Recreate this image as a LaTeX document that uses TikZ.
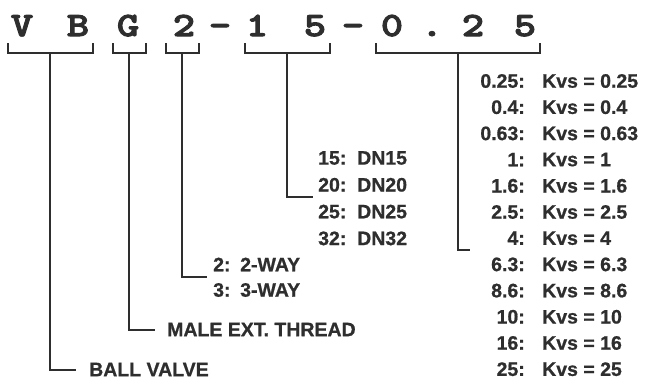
\documentclass[tikz,border=0pt]{standalone}
\usepackage{fontspec}
\setmainfont{Liberation Sans}[BoldFeatures={FakeBold=0.8}]
\newfontfamily\codefont{lmmonolt10-bold}[Extension=.otf, FakeStretch=1.25, FakeBold=3]
\definecolor{ink}{HTML}{2E2E2E}
\begin{document}
\begin{tikzpicture}[x=1pt,y=-1pt,
  inkline/.style={draw=ink, line width=2pt},
  code/.style={font=\codefont\fontsize{34}{34}\selectfont, text=ink, anchor=base, inner sep=0pt},
  lbl/.style={font=\bfseries\fontsize{19.5}{22}\selectfont, text=ink, inner sep=0pt},
]
\useasboundingbox (0,0) rectangle (653,381);
% code characters
\foreach \ch/\xx [count=\n] in {V/22,B/78,G/128,2/184,-/220,1/257,5/315,-/353,0/392,./432,2/473,5/525}
  \node[code] (c\n) at (\xx,36) {\ch};
% bracket coordinates
\coordinate (bVBl) at (8,43);   \coordinate (bVBr) at (93,43);   \coordinate (sVB) at (50,53);
\coordinate (bGl) at (113,43);  \coordinate (bGr) at (146,43);   \coordinate (sG) at (129,53);
\coordinate (b2l) at (166,43);  \coordinate (b2r) at (199,43);   \coordinate (s2) at (182,53);
\coordinate (bDl) at (245,43);  \coordinate (bDr) at (330,43);   \coordinate (sD) at (287,53);
\coordinate (bKl) at (376,43);  \coordinate (bKr) at (540,43);   \coordinate (sK) at (458,53);
\foreach \b in {VB,G,2,D,K}
  \draw[inkline] (b\b l) -- ++(0,10) -| (b\b r);
% labels
\node[lbl, anchor=west] (ball) at (89,369.5) {BALL VALVE};
\node[lbl, anchor=west] (male) at (167,329.5) {MALE EXT. THREAD};
\node[lbl, anchor=west] (w2l) at (213,264.5) {2:};
\node[lbl, anchor=west] (w2v) at (240,264.5) {2-WAY};
\node[lbl, anchor=west] (w3l) at (213,290) {3:};
\node[lbl, anchor=west] (w3v) at (240,290) {3-WAY};
\coordinate (wmid) at (207,277);
\foreach \d [count=\i from 0] in {15,20,25,32} {
  \node[lbl, anchor=west] (dl\i) at (318,158+26.8*\i) {\d:};
  \node[lbl, anchor=west] (dv\i) at (357,158+26.8*\i) {DN\d};
}
\coordinate (dmid) at (313,197);
\foreach \k [count=\i from 0] in {0.25,0.4,0.63,1,1.6,2.5,4,6.3,8.6,10,16,25} {
  \node[lbl, anchor=east] (kl\i) at (525,81+26.2*\i) {\k:};
  \node[lbl, anchor=west] (kv\i) at (542,81+26.2*\i) {Kvs = \k};
}
\coordinate (kmid) at (470,250);
% connectors
\draw[inkline] (sVB) |- ([xshift=-13pt]ball.west);
\draw[inkline] (sG) |- ([xshift=-12pt]male.west);
\draw[inkline] (s2) |- (wmid);
\draw[inkline] (sD) |- (dmid);
\draw[inkline] (sK) |- (kmid);
\end{tikzpicture}
\end{document}
